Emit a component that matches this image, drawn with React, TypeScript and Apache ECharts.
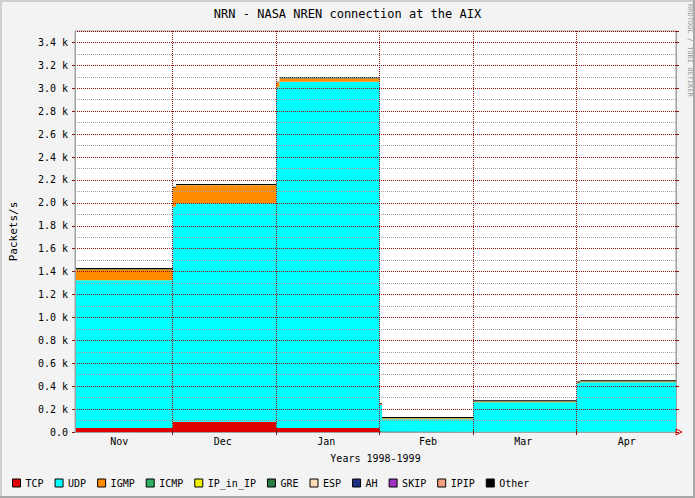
import React, { useEffect, useRef } from "react";
import * as echarts from "echarts";

// Segment boundaries in days since 1998-11-01 (last entry = end of graph)
const segDays = [0.75, 30, 31, 61, 62, 92, 92.7, 120, 151, 152, 180.75];
const tcp = [35, 90, 90, 35, 35, 8, 2, 3, 3, 3];
const udp = [1290, 1877, 1906, 2973, 3022, 228, 109, 256, 422, 431];
const igmp = [93, 163, 157, 44, 28, 6, 10, 8, 7, 7];
const icmp = [2, 3, 2, 2, 2, 1, 1, 1, 1, 1];
const ipInIp = [0, 0, 0, 0, 0, 0, 0, 0, 0, 0];
const gre = [0, 0, 0, 0, 0, 0, 0, 0, 0, 0];
const esp = [0, 0, 0, 0, 0, 0, 0, 0, 0, 0];
const ah = [0, 0, 0, 0, 0, 0, 0, 0, 0, 0];
const skip = [0, 0, 0, 0, 0, 0, 0, 0, 0, 0];
const ipip = [0, 0, 0, 0, 0, 0, 0, 0, 0, 0];
const other = [12, 8, 10, 4, 9, 8, 10, 10, 7, 10];

const seriesNames = ["TCP", "UDP", "IGMP", "ICMP", "IP_in_IP", "GRE", "ESP", "AH", "SKIP", "IPIP", "Other"];
const seriesValues = [tcp, udp, igmp, icmp, ipInIp, gre, esp, ah, skip, ipip, other];
const seriesColors = ["#e00000", "#00ffff", "#ff8c00", "#2db362", "#f0f000", "#2a7a44", "#ffdab9", "#1e2e80", "#a030c0", "#f4a080", "#000000"];

// Month boundaries (days since 1998-11-01) and month label positions
const monthBoundaries = [30, 61, 92, 120, 151];
const monthLabelDays = [14, 45, 76, 106.5, 135, 166];
const monthLabels = ["Nov", "Dec", "Jan", "Feb", "Mar", "Apr"];

const X_MIN = 0.75;
const X_MAX = 180.75;
const Y_MAX = 3500;

const MONO = "DejaVu Sans Mono";
const MGRID = "#8a1010";
const GRID = "#a0a0a0";

export default function App() {
  const ref = useRef<HTMLDivElement>(null);

  useEffect(() => {
    if (!ref.current) return;
    const chart = echarts.init(ref.current, undefined, { renderer: "svg" });

    // Data rows are [value, day] so that the stack is applied on the value dimension.
    const series = seriesNames.map((name, si) => {
      const vals = seriesValues[si];
      const data: number[][] = vals.map((v, i) => [v, segDays[i]]);
      data.push([vals[vals.length - 1], segDays[vals.length]]);
      return {
        name,
        type: "line",
        stack: "total",
        step: "end",
        data,
        encode: { x: 1, y: 0 },
        showSymbol: false,
        symbol: "none",
        lineStyle: { width: 0 },
        areaStyle: { color: seriesColors[si], opacity: 1 },
        itemStyle: { color: seriesColors[si] },
        z: 2,
      };
    });

    const yLabelFmt = (v: number) => {
      if (v === 0) return "0.0";
      if (v % 200 !== 0) return "";
      return (v / 1000).toFixed(1) + " k";
    };

    const option: any = {
      animation: false,
      backgroundColor: "#f3f3f3",
      textStyle: { fontFamily: MONO },
      title: {
        text: "NRN - NASA NREN connection at the AIX",
        left: "center",
        top: 3,
        textStyle: { fontFamily: MONO, fontSize: 12, fontWeight: "normal", color: "#000" },
      },
      grid: {
        left: 75,
        right: 19,
        top: 31,
        bottom: 66,
        show: true,
        backgroundColor: "#ffffff",
        borderColor: GRID,
        borderWidth: 1,
      },
      legend: {
        left: 7,
        top: 473,
        itemWidth: 8,
        itemHeight: 8,
        itemGap: 11,
        icon: "rect",
        selectedMode: false,
        itemStyle: { borderColor: "#000", borderWidth: 1 },
        textStyle: { fontFamily: MONO, fontSize: 10, color: "#000" },
        data: seriesNames,
      },
      xAxis: [
        {
          type: "value",
          min: X_MIN,
          max: X_MAX,
          position: "bottom",
          z: 5,
          name: "Years 1998-1999",
          nameLocation: "middle",
          nameGap: 21,
          nameTextStyle: { fontFamily: MONO, fontSize: 10, color: "#000" },
          axisLine: { show: true, lineStyle: { color: GRID, width: 1 } },
          axisTick: {
            show: true,
            length: 3,
            customValues: monthBoundaries,
            lineStyle: { color: MGRID },
          },
          axisLabel: {
            show: true,
            customValues: monthLabelDays,
            margin: 4,
            fontFamily: MONO,
            fontSize: 10,
            color: "#000",
            formatter: (v: number) => {
              let best = 0;
              for (let i = 1; i < monthLabelDays.length; i++) {
                if (Math.abs(monthLabelDays[i] - v) < Math.abs(monthLabelDays[best] - v)) best = i;
              }
              return monthLabels[best];
            },
          },
          splitLine: {
            show: true,
            lineStyle: { color: MGRID, type: [1, 1], width: 1 },
          },
        },
        {
          type: "value",
          min: X_MIN,
          max: X_MAX,
          position: "top",
          z: 5,
          axisLine: { show: true, lineStyle: { color: GRID, width: 1 } },
          axisTick: {
            show: true,
            length: 3,
            customValues: monthBoundaries,
            lineStyle: { color: MGRID },
          },
          axisLabel: { show: false },
          splitLine: { show: false },
        },
      ],
      yAxis: [
        {
          type: "value",
          min: 0,
          max: Y_MAX,
          interval: 200,
          z: 5,
          name: "Packets/s",
          nameLocation: "middle",
          nameGap: 56,
          nameTextStyle: { fontFamily: MONO, fontSize: 11, color: "#000" },
          axisLine: { show: true, lineStyle: { color: GRID, width: 1 } },
          axisTick: { show: true, length: 3, lineStyle: { color: MGRID } },
          axisLabel: {
            margin: 7,
            fontFamily: MONO,
            fontSize: 10,
            color: "#000",
            showMaxLabel: false,
            formatter: yLabelFmt,
          },
          splitLine: { show: true, lineStyle: { color: MGRID, type: [1, 1], width: 1 } },
          minorTick: { show: false, splitNumber: 2 },
          minorSplitLine: { show: true, lineStyle: { color: GRID, type: [1, 1], width: 1 } },
        },
        {
          type: "value",
          min: 0,
          max: Y_MAX,
          interval: 200,
          position: "right",
          z: 5,
          axisLine: { show: true, lineStyle: { color: GRID, width: 1 } },
          axisTick: { show: true, length: 3, lineStyle: { color: MGRID } },
          axisLabel: { show: false },
          splitLine: { show: false },
        },
      ],
      graphic: [
        {
          type: "text",
          x: 693,
          y: 4,
          rotation: -Math.PI / 2,
          style: {
            text: "RRDTOOL / TOBI OETIKER",
            fontFamily: MONO,
            fontSize: 7,
            fill: "#999",
            textVerticalAlign: "top",
            align: "left",
          },
          z: 10,
        },
        {
          type: "polyline",
          shape: { points: [[676, 429], [682, 432], [676, 435], [676, 429]] },
          style: { stroke: "#e00000", fill: "none", lineWidth: 1 },
          z: 10,
        },
        {
          type: "line",
          shape: { x1: 1, y1: 0, x2: 1, y2: 498 },
          style: { stroke: "#cfcfcf", lineWidth: 2 },
          z: 10,
        },
        {
          type: "line",
          shape: { x1: 0, y1: 1, x2: 695, y2: 1 },
          style: { stroke: "#cfcfcf", lineWidth: 2 },
          z: 10,
        },
        {
          type: "line",
          shape: { x1: 694, y1: 0, x2: 694, y2: 498 },
          style: { stroke: "#a8a8a8", lineWidth: 2 },
          z: 10,
        },
        {
          type: "line",
          shape: { x1: 0, y1: 497, x2: 695, y2: 497 },
          style: { stroke: "#a8a8a8", lineWidth: 2 },
          z: 10,
        },
      ],
      series,
    };

    chart.setOption(option);
    return () => chart.dispose();
  }, []);

  return (
    <div
      ref={ref}
      style={{ position: "absolute", left: 0, top: 0, width: 695, height: 498 }}
    />
  );
}
